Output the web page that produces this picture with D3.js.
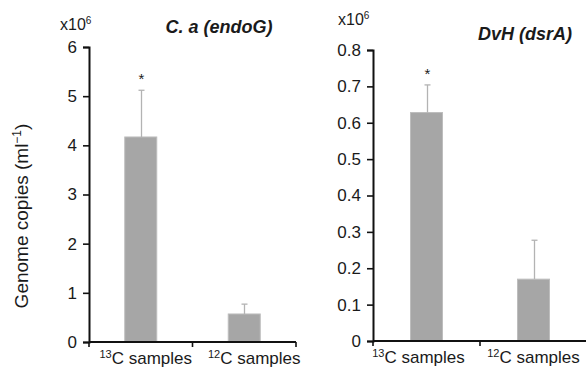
<!DOCTYPE html>
<html><head><meta charset="utf-8">
<script src="https://cdn.jsdelivr.net/npm/d3@7"></script>
<style>
body{margin:0;background:#fff;}
text{font-family:"Liberation Sans",Arial,sans-serif;fill:#1a1a1a;}
</style></head>
<body>
<svg id="c" width="586" height="367"></svg>
<script>
const categories = ["13C", "12C"];
const endoGValues = [4.17, 0.57];
const endoGErrors = [0.95, 0.20];
const endoGTicks = [0, 1, 2, 3, 4, 5, 6];
const dsrAValues = [0.628, 0.170];
const dsrAErrors = [0.076, 0.107];
const dsrATicks = [0, 0.1, 0.2, 0.3, 0.4, 0.5, 0.6, 0.7, 0.8];
const significant = [true, false];

const svg = d3.select("#c");

function panel(opt) {
  const g = svg.append("g");
  const x = d3.scaleBand().domain(categories).range([opt.x0, opt.x1]);
  const y = d3.scaleLinear().domain([0, opt.max]).range([opt.y0, opt.y1]);

  g.selectAll("rect.bar").data(opt.values).enter().append("rect")
    .attr("x", (d, i) => x(categories[i]) + x.bandwidth() / 2 - 16)
    .attr("width", 32)
    .attr("y", d => y(d))
    .attr("height", d => y(0) - y(d))
    .attr("fill", "#a6a6a6")
    .attr("stroke", "#bdbdbd")
    .attr("stroke-width", 1);

  opt.values.forEach((v, i) => {
    const cx = Math.round(x(categories[i]) + x.bandwidth() / 2) + 0.5;
    const top = y(v + opt.errors[i]);
    g.append("line").attr("x1", cx).attr("x2", cx).attr("y1", y(v)).attr("y2", top)
      .attr("stroke", "#b3b3b3").attr("stroke-width", 1.3);
    g.append("line").attr("x1", cx - 3).attr("x2", cx + 3).attr("y1", top).attr("y2", top)
      .attr("stroke", "#b3b3b3").attr("stroke-width", 1.3);
    if (significant[i]) {
      g.append("text").attr("x", cx).attr("y", top - 6)
        .attr("text-anchor", "middle").attr("font-size", 15).text("*");
    }
  });

  const ya = g.append("g").attr("transform", `translate(${opt.x0},0)`)
    .call(d3.axisLeft(y).tickValues(opt.ticks).tickSize(6).tickPadding(6)
      .tickFormat(opt.fmt));
  ya.select(".domain").attr("stroke", "#111").attr("stroke-width", 2);
  ya.selectAll(".tick line").attr("stroke", "#111").attr("stroke-width", 1.6);
  ya.selectAll(".tick text").attr("font-size", 17).attr("fill", "#1a1a1a")
    .attr("font-family", "Liberation Sans, Arial, sans-serif");

  const xa = g.append("g").attr("transform", `translate(0,${opt.y0})`);
  xa.append("line").attr("x1", opt.x0).attr("x2", opt.x1).attr("y1", 0).attr("y2", 0)
    .attr("stroke", "#111").attr("stroke-width", 2);
  [opt.x0, x(categories[1]), opt.x1].forEach(t => {
    xa.append("line").attr("x1", t).attr("x2", t).attr("y1", 0).attr("y2", 5)
      .attr("stroke", "#111").attr("stroke-width", 1.6);
  });
  categories.forEach((c, i) => {
    const t = xa.append("text")
      .attr("x", x(c) + x.bandwidth() / 2 + opt.labelDx[i])
      .attr("y", 22).attr("text-anchor", "middle").attr("font-size", 17);
    t.append("tspan").attr("font-size", 11).attr("dy", -6).text(c.replace("C", ""));
    t.append("tspan").attr("dy", 6).text("C samples");
  });

  const m = g.append("text").attr("x", opt.multX).attr("y", opt.multY).attr("font-size", 16);
  m.append("tspan").text("x10");
  m.append("tspan").attr("font-size", 10).attr("dy", -6).text("6");

  g.append("text").attr("x", opt.titleX).attr("y", opt.titleY)
    .attr("text-anchor", "middle").attr("font-size", 18)
    .attr("font-weight", "bold").attr("font-style", "italic").text(opt.title);
}

panel({
  x0: 89, x1: 296, y0: 342, y1: 47, max: 6,
  values: endoGValues, errors: endoGErrors, ticks: endoGTicks,
  fmt: d3.format("d"), labelDx: [5, 10],
  multX: 60, multY: 30, title: "C. a (endoG)", titleX: 219, titleY: 33
});

panel({
  x0: 373, x1: 587, y0: 341, y1: 50, max: 0.8,
  values: dsrAValues, errors: dsrAErrors, ticks: dsrATicks,
  fmt: d => d === 0 ? "0" : d3.format(".1f")(d), labelDx: [-8, 0],
  multX: 338, multY: 25, title: "DvH (dsrA)", titleX: 525, titleY: 40
});

const yl = svg.append("text")
  .attr("transform", "translate(28,216) rotate(-90)")
  .attr("text-anchor", "middle").attr("font-size", 19);
yl.append("tspan").text("Genome copies (ml");
yl.append("tspan").attr("font-size", 12).attr("dy", -7).text("−1");
yl.append("tspan").attr("dy", 7).text(")");
</script>
</body></html>
